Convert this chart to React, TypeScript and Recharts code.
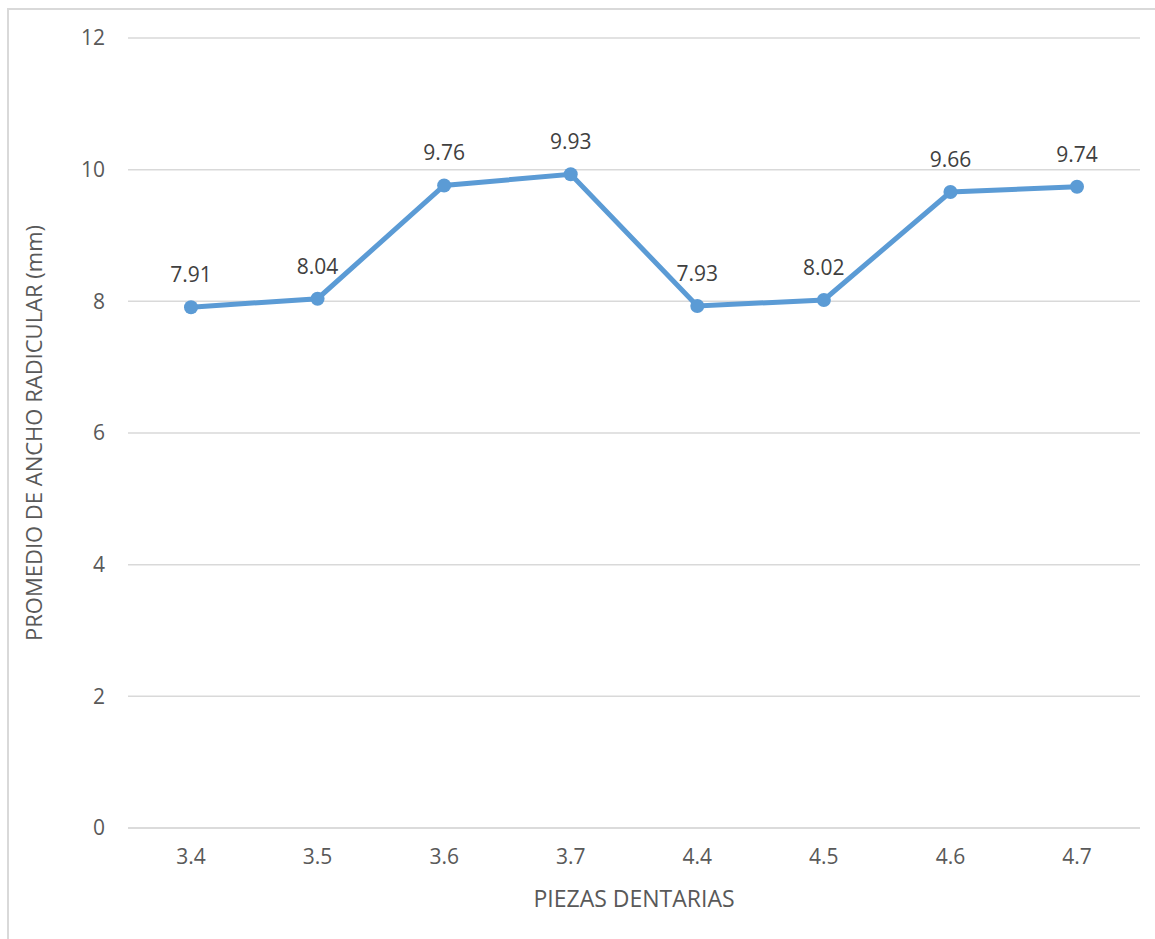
import React from 'react';
import { LineChart, Line, XAxis, YAxis, CartesianGrid, LabelList, Label } from 'recharts';

const piezas = ['3.4', '3.5', '3.6', '3.7', '4.4', '4.5', '4.6', '4.7'];
const promedioAncho = [7.91, 8.04, 9.76, 9.93, 7.93, 8.02, 9.66, 9.74];
const yTicks = [0, 2, 4, 6, 8, 10, 12];

const data = piezas.map((pieza, i) => ({ pieza, valor: promedioAncho[i] }));

const FONT = '"Open Sans", "Segoe UI", sans-serif';
const TEXT = '#595959';
const GRID = '#d9d9d9';
const BLUE = '#5b9bd5';

const YTitle = ({ viewBox }: any) => {
  const cx = viewBox.x + 33;
  const cy = viewBox.y + viewBox.height / 2;
  return (
    <text
      x={cx}
      y={cy}
      transform={`rotate(-90, ${cx}, ${cy})`}
      textAnchor="middle"
      dominantBaseline="central"
      fill={TEXT}
      fontSize={22}
      fontFamily={FONT}
    >
      PROMEDIO DE ANCHO RADICULAR (mm)
    </text>
  );
};

export default function App() {
  return (
    <div style={{ position: 'absolute', left: 0, top: 0, width: 1155, height: 939, overflow: 'hidden', background: '#fff' }}>
      <div
        style={{
          position: 'absolute',
          left: 7,
          top: 8,
          width: 1170,
          height: 960,
          border: `2px solid ${GRID}`,
          boxSizing: 'border-box',
        }}
      />
      <div style={{ position: 'absolute', left: 0, top: 0 }}>
        <LineChart
          width={1155}
          height={939}
          data={data}
          margin={{ top: 38, right: 15, bottom: 0, left: 0 }}
        >
          <CartesianGrid vertical={false} stroke={GRID} strokeWidth={1.5} />
          <XAxis
            dataKey="pieza"
            height={111}
            padding={{ left: 63, right: 63 }}
            tickLine={false}
            tickSize={0}
            tickMargin={21}
            axisLine={{ stroke: GRID, strokeWidth: 1.5 }}
            tick={{ fill: TEXT, fontSize: 21, fontFamily: FONT }}
          >
            <Label
              value="PIEZAS DENTARIAS"
              position="insideBottom"
              offset={32}
              fill={TEXT}
              fontSize={23}
              fontFamily={FONT}
            />
          </XAxis>
          <YAxis
            width={128}
            domain={[0, 12]}
            ticks={yTicks}
            axisLine={false}
            tickLine={false}
            tickSize={0}
            tickMargin={23}
            tick={{ fill: TEXT, fontSize: 21, fontFamily: FONT }}
          >
            <Label content={<YTitle />} />
          </YAxis>
          <Line
            type="linear"
            dataKey="valor"
            stroke={BLUE}
            strokeWidth={5}
            dot={{ r: 7, fill: BLUE, stroke: BLUE, strokeWidth: 0 }}
            activeDot={false}
            isAnimationActive={false}
          >
            <LabelList
              dataKey="valor"
              position="top"
              offset={25}
              fill="#404040"
              fontSize={21}
              fontFamily={FONT}
              formatter={(v: any) => Number(v).toFixed(2)}
            />
          </Line>
        </LineChart>
      </div>
    </div>
  );
}
